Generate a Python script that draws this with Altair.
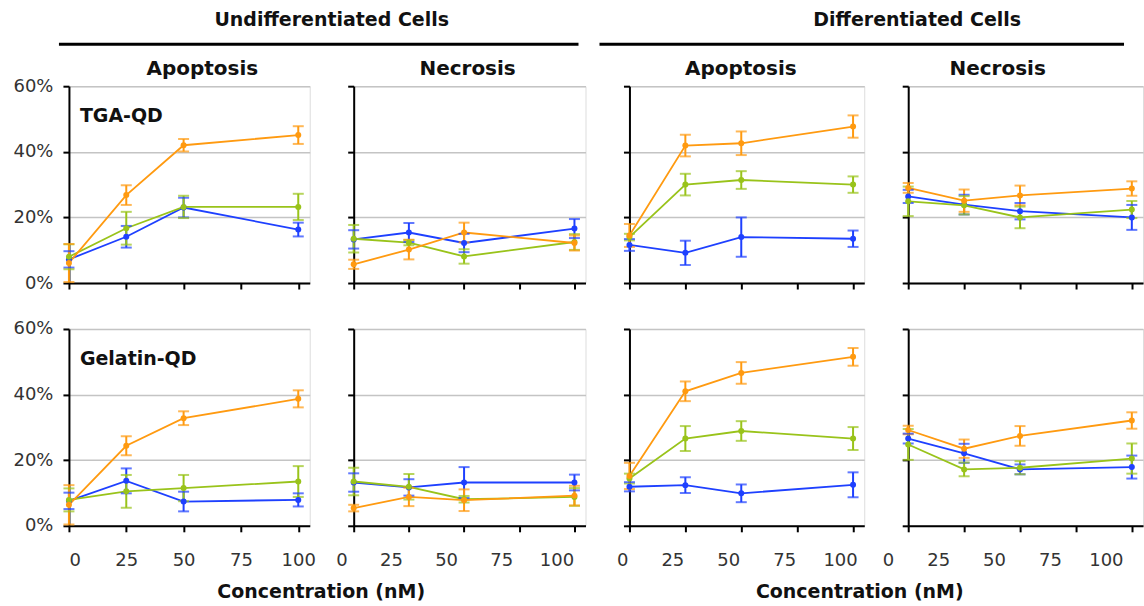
import altair as alt
import pandas as pd

# ---------------- data ----------------
conc = [0, 25, 50, 100]
series_names = ["Series 1", "Series 2", "Series 3"]
series_colors = ["#1E40FF", "#99C31A", "#FF9A10"]  # blue, green, orange
x_ticks = [0, 25, 50, 75, 100]
y_ticks = [0, 20, 40, 60]
group_labels = ["Undifferentiated Cells", "Differentiated Cells"]
col_titles = ["Apoptosis", "Necrosis", "Apoptosis", "Necrosis"]
row_labels = ["TGA-QD", "Gelatin-QD"]
x_title = "Concentration (nM)"

# TGA-QD, undifferentiated, apoptosis
p1_blue = [7.2, 14.1, 23.0, 16.3];   p1_blue_err = [2.5, 3.3, 3.0, 2.1]
p1_green = [8.0, 16.7, 23.2, 23.2];  p1_green_err = [3.8, 5.0, 3.4, 4.0]
p1_orange = [6.1, 26.8, 42.0, 45.1]; p1_orange_err = [5.8, 3.0, 1.9, 2.7]
# TGA-QD, undifferentiated, necrosis
p2_blue = [13.3, 15.4, 12.2, 16.6];  p2_blue_err = [2.8, 2.9, 2.8, 2.9]
p2_green = [13.5, 12.3, 8.1, 12.5];  p2_green_err = [4.2, 0.8, 2.2, 2.4]
p2_orange = [5.7, 10.2, 15.4, 12.2]; p2_orange_err = [1.4, 3.0, 3.0, 2.3]
# TGA-QD, differentiated, apoptosis
p3_blue = [11.6, 9.2, 14.0, 13.5];   p3_blue_err = [1.8, 3.7, 6.0, 2.5]
p3_green = [14.0, 30.0, 31.4, 30.0]; p3_green_err = [1.0, 3.3, 2.7, 2.5]
p3_orange = [14.5, 41.9, 42.6, 47.7]; p3_orange_err = [3.5, 3.3, 3.6, 3.4]
# TGA-QD, differentiated, necrosis
p4_blue = [26.4, 23.9, 21.9, 20.0];  p4_blue_err = [2.0, 3.0, 2.5, 3.8]
p4_green = [24.9, 23.7, 20.0, 22.4]; p4_green_err = [4.5, 2.8, 3.3, 2.6]
p4_orange = [29.0, 25.1, 26.7, 28.8]; p4_orange_err = [1.5, 3.4, 3.0, 2.2]
# Gelatin-QD, undifferentiated, apoptosis
p5_blue = [7.6, 13.7, 7.4, 7.9];     p5_blue_err = [2.5, 3.8, 3.0, 2.0]
p5_green = [7.9, 10.5, 11.5, 13.5];  p5_green_err = [3.5, 5.0, 4.0, 4.7]
p5_orange = [6.4, 24.4, 32.8, 38.7]; p5_orange_err = [6.0, 2.9, 2.1, 2.6]
# Gelatin-QD, undifferentiated, necrosis
p6_blue = [13.2, 11.7, 13.2, 13.2];  p6_blue_err = [2.8, 2.5, 4.7, 2.4]
p6_green = [13.5, 11.9, 8.1, 8.8];   p6_green_err = [4.2, 3.9, 1.0, 2.7]
p6_orange = [5.4, 8.8, 7.8, 9.2];    p6_orange_err = [1.0, 2.8, 3.3, 3.0]
# Gelatin-QD, differentiated, apoptosis
p7_blue = [11.9, 12.4, 9.9, 12.5];   p7_blue_err = [1.4, 2.4, 2.7, 3.8]
p7_green = [14.4, 26.6, 28.9, 26.6]; p7_green_err = [1.5, 3.8, 3.0, 3.5]
p7_orange = [15.2, 41.0, 46.6, 51.5]; p7_orange_err = [4.0, 3.0, 3.3, 2.7]
# Gelatin-QD, differentiated, necrosis
p8_blue = [26.6, 22.1, 17.2, 17.9];  p8_blue_err = [1.5, 2.9, 1.5, 3.5]
p8_green = [24.8, 17.2, 17.7, 20.5]; p8_green_err = [4.7, 2.1, 2.0, 4.6]
p8_orange = [29.2, 23.5, 27.4, 32.1]; p8_orange_err = [1.3, 2.8, 3.0, 2.5]

FONT = "DejaVu Sans"
PANEL_H = 197
COL_W = [241, 232, 235, 235]
LABEL_OFFSETS = [0, -18, -13, -26]
TITLE_DX = [13, -2, -6, -28]


def make_df(means, errs):
    rows = []
    for s, m, e in zip(series_names, means, errs):
        for c, v, d in zip(conc, m, e):
            rows.append({"series": s, "conc": c, "value": v, "lo": v - d, "hi": v + d})
    return pd.DataFrame(rows)


def text_layer(label, tx, ty, size, align="center"):
    return alt.Chart(pd.DataFrame({"t": [label]})).mark_text(
        fontSize=size, fontWeight="bold", font=FONT, color="#111", baseline="middle", align=align
    ).encode(text="t:N", x=alt.value(tx), y=alt.value(ty))


def header_layers(label, text_x, rule_x1, rule_x2):
    t = text_layer(label, text_x, -66, 19)
    r = alt.Chart(pd.DataFrame({"t": [label]})).mark_rule(strokeWidth=3, color="black").encode(
        x=alt.value(rule_x1), x2=alt.value(rule_x2), y=alt.value(-42))
    return [t, r]


def panel(means, errs, col, row, label=None, xtitle_x=None, header=None):
    df = make_df(means, errs)
    bottom = row == 1
    xaxis_kw = dict(values=x_ticks, labels=bottom, grid=False, tickSize=6, tickWidth=2,
                    tickColor="black", domainColor="black", domainWidth=2,
                    labelFontSize=18, labelColor="#333", labelFont=FONT,
                    labelPadding=20, labelOffset=LABEL_OFFSETS[col])
    if xtitle_x is not None:
        xaxis_kw.update(title=x_title, titleX=xtitle_x, titleFontSize=19, titleFont=FONT,
                        titleFontWeight="bold", titleColor="#111", titlePadding=13)
    else:
        xaxis_kw.update(title=None)
    x = alt.X("conc:Q", scale=alt.Scale(domain=[0, 105], nice=False), axis=alt.Axis(**xaxis_kw))

    def y(field):
        return alt.Y(field + ":Q", scale=alt.Scale(domain=[0, 60], nice=False),
                     axis=alt.Axis(values=y_ticks, labels=(col == 0), title=None,
                                   labelExpr="datum.value + '%'", grid=True,
                                   gridColor="#C4C4C4", gridWidth=1.5, tickSize=6,
                                   tickWidth=2, tickColor="black", domainColor="black",
                                   domainWidth=2, labelFontSize=18, labelColor="#333",
                                   labelFont=FONT, labelPadding=10))

    color = alt.Color("series:N", scale=alt.Scale(domain=series_names, range=series_colors),
                      legend=None)
    base = alt.Chart(df)
    line = base.mark_line(strokeWidth=1.8).encode(x=x, y=y("value"), color=color, detail="series:N")
    bar = base.mark_rule(strokeWidth=2).encode(x=x, y=y("lo"), y2="hi:Q", color=color)
    cap_lo = base.mark_tick(orient="horizontal", size=11, thickness=2).encode(x=x, y=y("lo"), color=color)
    cap_hi = base.mark_tick(orient="horizontal", size=11, thickness=2).encode(x=x, y=y("hi"), color=color)
    pts = base.mark_point(filled=True, size=36, opacity=1, shape="circle").encode(x=x, y=y("value"), color=color)
    layers = [line, bar, cap_lo, cap_hi, pts]
    if label is not None:
        layers.append(text_layer(label, 11, 30, 19, align="left"))
    if row == 0:
        layers.append(text_layer(col_titles[col], COL_W[col] / 2 + TITLE_DX[col], -17, 20))
    if header is not None:
        layers.extend(header_layers(*header))
    return alt.layer(*layers).properties(width=COL_W[col], height=PANEL_H)


p1 = panel([p1_blue, p1_green, p1_orange], [p1_blue_err, p1_green_err, p1_orange_err], 0, 0,
           label=row_labels[0], header=(group_labels[0], 263, -10, 510))
p2 = panel([p2_blue, p2_green, p2_orange], [p2_blue_err, p2_green_err, p2_orange_err], 1, 0)
p3 = panel([p3_blue, p3_green, p3_orange], [p3_blue_err, p3_green_err, p3_orange_err], 2, 0,
           header=(group_labels[1], 288, -30, 495))
p4 = panel([p4_blue, p4_green, p4_orange], [p4_blue_err, p4_green_err, p4_orange_err], 3, 0)
p5 = panel([p5_blue, p5_green, p5_orange], [p5_blue_err, p5_green_err, p5_orange_err], 0, 1,
           label=row_labels[1], xtitle_x=252)
p6 = panel([p6_blue, p6_green, p6_orange], [p6_blue_err, p6_green_err, p6_orange_err], 1, 1)
p7 = panel([p7_blue, p7_green, p7_orange], [p7_blue_err, p7_green_err, p7_orange_err], 2, 1,
           xtitle_x=230)
p8 = panel([p8_blue, p8_green, p8_orange], [p8_blue_err, p8_green_err, p8_orange_err], 3, 1)

chart = alt.concat(p1, p2, p3, p4, p5, p6, p7, p8, columns=4,
                   spacing={"row": 46, "column": 44}, bounds="flush").properties(
    padding={"left": 12, "top": 10, "right": 0, "bottom": 2}
).configure_view(strokeWidth=0).configure(background="white")

chart.save("out.html", embed_options={"renderer": "svg", "actions": False})
